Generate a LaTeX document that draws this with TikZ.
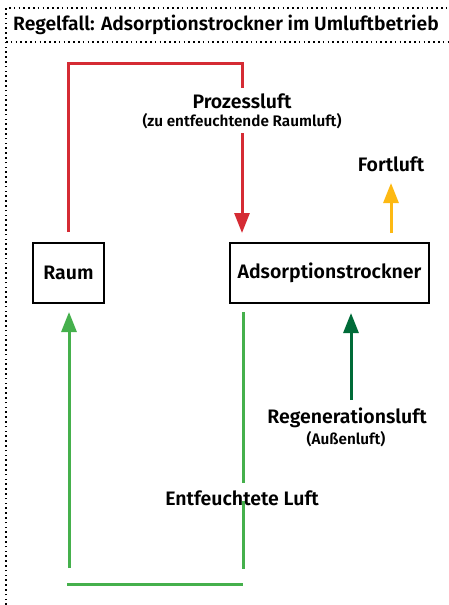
\documentclass[tikz,border=0pt]{standalone}
\usepackage{fontspec}
\setmainfont{Fira Sans}[BoldFont={Fira Sans SemiBold}]
\usetikzlibrary{arrows.meta}
\definecolor{cred}{HTML}{D52B34}
\definecolor{cyel}{HTML}{FDB913}
\definecolor{cgreen}{HTML}{45B04C}
\definecolor{cdgreen}{HTML}{006B38}
\tikzset{
  frameline/.style={line width=1.6pt, dash pattern=on 1.6pt off 3.2pt, black},
  boxnode/.style={draw, line width=2.4pt, inner sep=0pt, font=\fontsize{19.5}{21}\selectfont\bfseries},
  lbl/.style={inner sep=0pt, font=\fontsize{19.5}{21}\selectfont\bfseries},
  sublbl/.style={inner sep=0pt, font=\fontsize{15.3}{17}\selectfont\bfseries},
  flow/.style={line width=3pt},
  tip/.style={-{Triangle[width=15pt,length=20pt]}}
}
\begin{document}
\begin{tikzpicture}[x=1pt,y=-1pt]
\useasboundingbox (0,0) rectangle (449,605);
% frame
\draw[frameline] (6,605) -- (6,8) -- (449,8);
\draw[frameline] (6,42) -- (449,42);
\node[anchor=west, inner sep=0pt, font=\fontsize{19.3}{21}\selectfont\bfseries] (title) at (13,25) {Regelfall: Adsorptionstrockner im Umluftbetrieb};
% boxes
\node[boxnode, minimum width=71pt, minimum height=60pt] (raum) at (68.5,273) {Raum};
\node[boxnode, minimum width=199pt, minimum height=60pt] (ads) at (329.5,273) {Adsorptionstrockner};
% labels
\node[lbl] (proz) at (242,101) {Prozessluft};
\node[sublbl] (prozsub) at (242,121) {(zu entfeuchtende Raumluft)};
\node[lbl] (fort) at (391,164) {Fortluft};
\node[lbl] (regen) at (347,418) {Regenerationsluft};
\node[sublbl] (regensub) at (346,439) {(Außenluft)};
% coordinates
\coordinate (r0) at (68,232);
\coordinate (r1) at (68,63);
\coordinate (r2) at (242,63);
\coordinate (r3) at (242,88);
\coordinate (r4) at (242,133);
\coordinate (r5) at (242,233);
\coordinate (f0) at (391,233);
\coordinate (f1) at (391,183);
\coordinate (g0) at (69,568);
\coordinate (g1) at (69,312);
\coordinate (g2) at (243,312);
\coordinate (g3) at (243,483);
\coordinate (g4) at (243,501);
\coordinate (g5) at (243,569);
\coordinate (g6) at (67,584);
\coordinate (g7) at (243,584);
\coordinate (d0) at (351,400);
\coordinate (d1) at (351,313);
% red
\draw[flow, cred] (r0) -- (r1) -- (r2) -- (r3);
\draw[flow, cred, tip] (r4) -- (r5);
% yellow
\draw[flow, cyel, tip] (f0) -- (f1);
% green
\draw[flow, cgreen, tip] (g0) -- (g1);
\draw[flow, cgreen] (g2) -- (g3);
\draw[flow, cgreen] (g4) -- (g5);
\draw[flow, cgreen] (g6) -- (g7);
% dark green
\draw[flow, cdgreen, tip] (d0) -- (d1);
\node[lbl] (entf) at (242,498) {Entfeuchtete Luft};
\end{tikzpicture}
\end{document}
